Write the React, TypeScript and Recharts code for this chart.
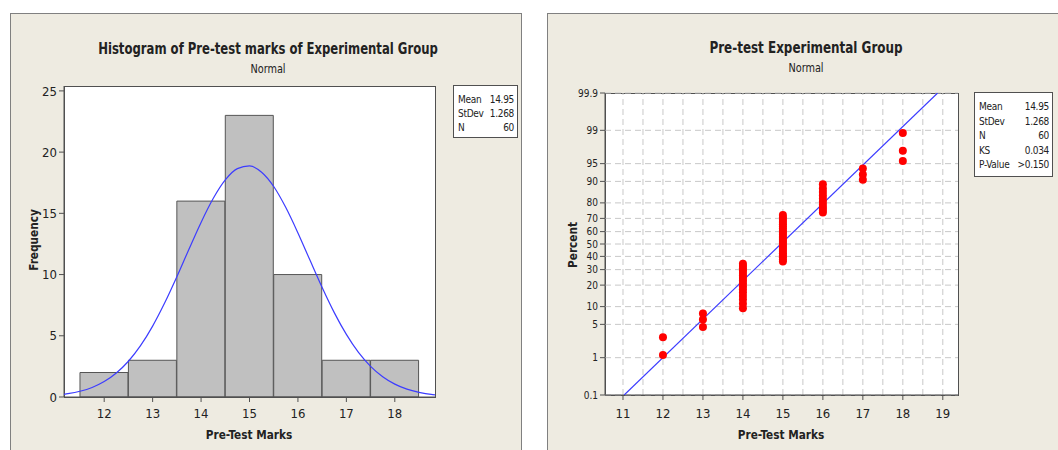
import React from "react";
import { BarChart, Bar, ScatterChart, Scatter, XAxis, YAxis, CartesianGrid, ReferenceLine } from "recharts";

const FONT = "'Liberation Sans Narrow', 'DejaVu Sans Condensed', 'Liberation Sans', sans-serif";
const BG = "#EEEBE1";
const FRAME = "#808080";
const AXIS = "#505050";
const TEXT = "#222222";
const BLUE = "#3c3cff";

// ---- histogram data ----
const histMarks = [12, 13, 14, 15, 16, 17, 18];
const histFreq = [2, 3, 16, 23, 10, 3, 3];
const histXTicks = [12, 13, 14, 15, 16, 17, 18];
const histYTicks = [0, 5, 10, 15, 20, 25];
const histXDomain = [11.17, 18.83];
const histYDomain = [0, 25.4];

// fitted normal curve
const curveX = [
  11.17, 11.25, 11.5, 11.75, 12, 12.25, 12.5, 12.75, 13, 13.25, 13.5, 13.75, 14, 14.25, 14.5, 14.75, 15,
  15.25, 15.5, 15.75, 16, 16.25, 16.5, 16.75, 17, 17.25, 17.5, 17.75, 18, 18.25, 18.5, 18.75, 18.83,
];
const curveY = [
  0.22, 0.27, 0.47, 0.78, 1.26, 1.96, 2.92, 4.19, 5.79, 7.69, 9.82, 12.07, 14.26, 16.21, 17.73, 18.65, 18.87,
  18.36, 17.19, 15.47, 13.4, 11.16, 8.94, 6.89, 5.11, 3.64, 2.5, 1.65, 1.05, 0.64, 0.38, 0.21, 0.18,
];

const histStatLabels = ["Mean", "StDev", "N"];
const histStatValues = ["14.95", "1.268", "60"];

// ---- probability plot data ----
const probMarks = [12, 13, 14, 15, 16, 17, 18];
const probPercents = [
  [1.16, 2.81],
  [4.47, 6.13, 7.78],
  [9.44, 11.09, 12.75, 14.4, 16.06, 17.72, 19.37, 21.03, 22.68, 24.34, 25.99, 27.65, 29.3, 30.96, 32.62, 34.27],
  [
    35.93, 37.58, 39.24, 40.89, 42.55, 44.21, 45.86, 47.52, 49.17, 50.83, 52.48, 54.14, 55.79, 57.45, 59.11,
    60.76, 62.42, 64.07, 65.73, 67.38, 69.04, 70.7, 72.35,
  ],
  [74.01, 75.66, 77.32, 78.97, 80.63, 82.28, 83.94, 85.6, 87.25, 88.91],
  [90.56, 92.22, 93.87],
  [95.53, 97.19, 98.84],
];
const fitX = [11.03, 18.87];
const fitPct = [0.1, 99.9];
const probXTicks = [11, 12, 13, 14, 15, 16, 17, 18, 19];
const probGridX = [11, 11.5, 12, 12.5, 13, 13.5, 14, 14.5, 15, 15.5, 16, 16.5, 17, 17.5, 18, 18.5, 19];
const probYTicks = [0.1, 1, 5, 10, 20, 30, 40, 50, 60, 70, 80, 90, 95, 99, 99.9];
const probYLabels = ["0.1", "1", "5", "10", "20", "30", "40", "50", "60", "70", "80", "90", "95", "99", "99.9"];
const probXDomain = [10.55, 19.38];

const probStatLabels = ["Mean", "StDev", "N", "KS", "P-Value"];
const probStatValues = ["14.95", "1.268", "60", "0.034", ">0.150"];

// inverse normal cdf (Acklam) -> turns percent into the normal probability scale
function probit(pct: number): number {
  const p = pct / 100;
  const a = [-39.69683028665376, 220.9460984245205, -275.9285104469687, 138.357751867269, -30.66479806614716, 2.506628277459239];
  const b = [-54.47609879822406, 161.5858368580409, -155.6989798598866, 66.80131188771972, -13.28068155288572];
  const c = [-0.007784894002430293, -0.3223964580411365, -2.400758277161838, -2.549732539343734, 4.374664141464968, 2.938163982698783];
  const d = [0.007784695709041462, 0.3224671290700398, 2.445134137142996, 3.754408661907416];
  const pl = 0.02425;
  if (p < pl) {
    const q = Math.sqrt(-2 * Math.log(p));
    return (((((c[0] * q + c[1]) * q + c[2]) * q + c[3]) * q + c[4]) * q + c[5]) / ((((d[0] * q + d[1]) * q + d[2]) * q + d[3]) * q + 1);
  }
  if (p <= 1 - pl) {
    const q = p - 0.5;
    const r = q * q;
    return ((((((a[0] * r + a[1]) * r + a[2]) * r + a[3]) * r + a[4]) * r + a[5]) * q) / (((((b[0] * r + b[1]) * r + b[2]) * r + b[3]) * r + b[4]) * r + 1);
  }
  const q = Math.sqrt(-2 * Math.log(1 - p));
  return -(((((c[0] * q + c[1]) * q + c[2]) * q + c[3]) * q + c[4]) * q + c[5]) / ((((d[0] * q + d[1]) * q + d[2]) * q + d[3]) * q + 1);
}

const binData = histMarks.map((m, i) => ({ mark: m, freq: histFreq[i] }));
const curveData = curveX.map((x, i) => ({ x, y: curveY[i] }));
const pointData = probMarks.flatMap((m, i) => probPercents[i].map((p) => ({ x: m, z: probit(p) })));
const fitData = fitX.map((x, i) => ({ x, z: probit(fitPct[i]) }));
const probYTickZ = probYTicks.map(probit);

const tickStyle = { fontSize: 13, fontFamily: FONT, fill: TEXT };

function Txt({ x, y, size, bold, rotate, sx, children }: any) {
  return (
    <div
      style={{
        position: "absolute",
        left: x,
        top: y,
        transform: `translate(-50%, -50%)${rotate ? ` rotate(${rotate}deg)` : ""}${sx ? ` scaleX(${sx})` : ""}`,
        fontFamily: FONT,
        fontSize: size,
        fontWeight: bold ? "bold" : "normal",
        color: TEXT,
        whiteSpace: "nowrap",
        lineHeight: 1,
      }}
    >
      {children}
    </div>
  );
}

function StatBox({ left, top, width, height, labels, values, firstRow, step }: any) {
  return (
    <div
      style={{
        position: "absolute",
        left,
        top,
        width,
        height,
        boxSizing: "border-box",
        background: "#fff",
        border: `1px solid ${AXIS}`,
        fontFamily: FONT,
        fontSize: 10,
        letterSpacing: -0.3,
        color: TEXT,
      }}
    >
      {labels.map((l: string, i: number) => (
        <div
          key={l}
          style={{
            position: "absolute",
            left: 4,
            right: 3,
            top: firstRow + i * step - 7,
            height: 14,
            lineHeight: "14px",
            display: "flex",
            justifyContent: "space-between",
            whiteSpace: "nowrap",
          }}
        >
          <span>{l}</span>
          <span>{values[i]}</span>
        </div>
      ))}
    </div>
  );
}

function PlotBox({ left, top, width, height }: any) {
  return (
    <div
      style={{
        position: "absolute",
        left,
        top,
        width,
        height,
        boxSizing: "border-box",
        background: "#fff",
        border: `1px solid ${AXIS}`,
      }}
    />
  );
}

export default function App() {
  return (
    <div style={{ position: "absolute", left: 0, top: 0, width: 1058, height: 450, background: "#fff", overflow: "hidden" }}>
      {/* left panel */}
      <div
        style={{
          position: "absolute",
          left: 10,
          top: 13,
          width: 512,
          height: 450,
          boxSizing: "border-box",
          background: BG,
          border: `1px solid ${FRAME}`,
        }}
      />
      <PlotBox left={64} top={86} width={372} height={312} />
      <div style={{ position: "absolute", left: 10, top: 13 }}>
        <BarChart width={512} height={437} data={binData} margin={{ top: 73, right: 87, bottom: 23, left: 0 }} barCategoryGap={0} barGap={0}>
          <XAxis
            dataKey="mark"
            type="number"
            domain={histXDomain}
            ticks={histXTicks}
            allowDataOverflow
            interval={0}
            height={30}
            tick={tickStyle}
            tickSize={5}
            tickMargin={7}
            stroke={AXIS}
          />
          <YAxis
            type="number"
            domain={histYDomain}
            ticks={histYTicks}
            allowDataOverflow
            interval={0}
            width={54}
            tick={tickStyle}
            tickSize={5}
            tickMargin={2}
            stroke={AXIS}
          />
          <Bar dataKey="freq" fill="#C0C0C0" stroke="#555555" strokeWidth={1} isAnimationActive={false} />
        </BarChart>
      </div>
      <div style={{ position: "absolute", left: 10, top: 13 }}>
        <ScatterChart width={512} height={437} margin={{ top: 73, right: 87, bottom: 53, left: 54 }}>
          <XAxis dataKey="x" type="number" domain={histXDomain} allowDataOverflow hide />
          <YAxis dataKey="y" type="number" domain={histYDomain} allowDataOverflow hide />
          <Scatter
            data={curveData}
            line={{ stroke: BLUE, strokeWidth: 1.2 }}
            lineJointType="monotoneX"
            shape={() => <g />}
            isAnimationActive={false}
          />
        </ScatterChart>
      </div>
      <Txt x={268} y={49} size={16} bold sx={0.81}>
        Histogram of Pre-test marks of Experimental Group
      </Txt>
      <Txt x={268} y={69} size={12} sx={0.9}>
        Normal
      </Txt>
      <Txt x={33} y={240} size={13} bold rotate={-90} sx={0.9}>
        Frequency
      </Txt>
      <Txt x={249} y={434} size={13} bold sx={0.9}>
        Pre-Test Marks
      </Txt>
      <StatBox left={453} top={85} width={65} height={53} labels={histStatLabels} values={histStatValues} firstRow={14} step={14} />

      {/* right panel */}
      <div
        style={{
          position: "absolute",
          left: 547,
          top: 13,
          width: 520,
          height: 450,
          boxSizing: "border-box",
          background: BG,
          border: `1px solid ${FRAME}`,
        }}
      />
      <PlotBox left={605} top={93} width={354} height={303} />
      <div style={{ position: "absolute", left: 547, top: 13 }}>
        <ScatterChart width={511} height={437} margin={{ top: 80, right: 100, bottom: 25, left: 0 }}>
          <CartesianGrid vertical={false} stroke="#C8C8C8" strokeDasharray="6 4" />
          {probGridX.map((g) => (
            <ReferenceLine key={g} x={g} stroke="#C8C8C8" strokeDasharray="6 4" />
          ))}
          <XAxis
            dataKey="x"
            type="number"
            domain={probXDomain}
            ticks={probXTicks}
            allowDataOverflow
            interval={0}
            height={30}
            tick={tickStyle}
            tickSize={5}
            tickMargin={9}
            stroke={AXIS}
          />
          <YAxis
            dataKey="z"
            type="number"
            domain={[probYTickZ[0], probYTickZ[probYTickZ.length - 1]]}
            ticks={probYTickZ}
            tickFormatter={(_v: number, i: number) => probYLabels[i]}
            allowDataOverflow
            interval={0}
            width={58}
            tick={{ fontSize: 10, fontFamily: FONT, fill: TEXT }}
            tickSize={5}
            tickMargin={2}
            stroke={AXIS}
          />
          <Scatter
            data={fitData}
            line={{ stroke: BLUE, strokeWidth: 1.2 }}
            shape={() => <g />}
            isAnimationActive={false}
          />
          <Scatter
            data={pointData}
            shape={(p: any) => <circle cx={p.cx} cy={p.cy} r={4} fill="#FF0000" />}
            isAnimationActive={false}
          />
        </ScatterChart>
      </div>
      <Txt x={806} y={48} size={16} bold sx={0.83}>
        Pre-test Experimental Group
      </Txt>
      <Txt x={806} y={68} size={12} sx={0.9}>
        Normal
      </Txt>
      <Txt x={572} y={245} size={13} bold rotate={-90} sx={0.9}>
        Percent
      </Txt>
      <Txt x={781} y={434} size={13} bold sx={0.9}>
        Pre-Test Marks
      </Txt>
      <StatBox left={974} top={92} width={79} height={85} labels={probStatLabels} values={probStatValues} firstRow={14} step={14.5} />
    </div>
  );
}
